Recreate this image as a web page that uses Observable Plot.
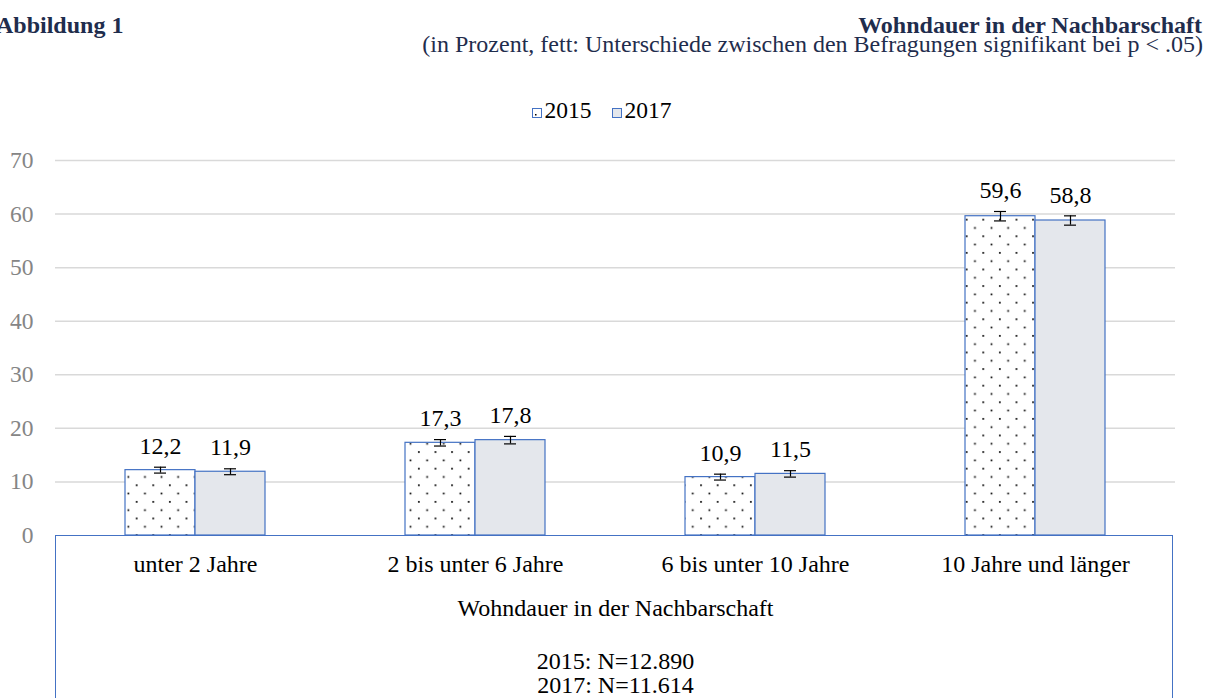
<!DOCTYPE html>
<html>
<head>
<meta charset="utf-8">
<script src="https://cdn.jsdelivr.net/npm/d3@7"></script>
<script src="https://cdn.jsdelivr.net/npm/@observablehq/plot@0.6"></script>
<style>
  html, body { margin: 0; padding: 0; background: #fff; overflow: hidden; }
  body { width: 1207px; height: 698px; position: relative; font-family: "Liberation Serif", "Times New Roman", serif; }
  #chart { position: absolute; left: 0; top: 0; }
  .t { position: absolute; white-space: nowrap; color: #1f2d4d; font-size: 24px; }
  #title-left { left: -4px; top: 16px; font-weight: bold; line-height: 18px; }
  #title-right { right: 4px; top: 16px; line-height: 19px; text-align: right; }
  #title-right b { margin-right: 1px; }
  #legend { position: absolute; top: 99px; left: 0; width: 1203px; text-align: center; font-size: 23.5px; color: #000; line-height: 1; }
  #legend span { margin: 0 10px; }
  #legend svg { vertical-align: 0px; margin-right: 3px; }
  #box { position: absolute; left: 55px; top: 535px; width: 1118px; height: 200px; border: 1.5px solid #4472c4; box-sizing: border-box; }
</style>
</head>
<body>
<div id="box"></div>
<div id="chart"></div>
<div class="t" id="title-left">Abbildung 1</div>
<div class="t" id="title-right"><b>Wohndauer in der Nachbarschaft</b><br>(in Prozent, fett: Unterschiede zwischen den Befragungen signifikant bei p &lt; .05)</div>
<div id="legend"></div>
<script>
const categories = ["unter 2 Jahre", "2 bis unter 6 Jahre", "6 bis unter 10 Jahre", "10 Jahre und länger"];
const years = ["2015", "2017"];
const values2015 = [12.2, 17.3, 10.9, 59.6];
const values2017 = [11.9, 17.8, 11.5, 58.8];
const err2015 = [0.55, 0.6, 0.55, 0.88];
const err2017 = [0.55, 0.7, 0.6, 0.87];
const yTicks = [0, 10, 20, 30, 40, 50, 60, 70];
const axisTitle = "Wohndauer in der Nachbarschaft";
const nLines = ["2015: N=12.890", "2017: N=11.614"];

const fmt = v => v.toFixed(1).replace(".", ",");
const d15 = categories.map((c, i) => ({cat: c, v: values2015[i], e: err2015[i]}));
const d17 = categories.map((c, i) => ({cat: c, v: values2017[i], e: err2017[i]}));

const blue = "#4472c4";
const serif = "Liberation Serif, Times New Roman, serif";
const FS = 24;

function series(data, fill, left, right, dx) {
  return [
    Plot.barY(data, {x: "cat", y: "v", fill, stroke: blue, strokeWidth: 1.2, insetLeft: left, insetRight: right}),
    Plot.ruleX(data, {x: "cat", y1: d => d.v - d.e, y2: d => d.v + d.e, dx, stroke: "#000", strokeWidth: 1.2}),
    Plot.tickY(data, {x: "cat", y: d => d.v - d.e, stroke: "#000", strokeWidth: 1.2, insetLeft: left + 29, insetRight: right + 29}),
    Plot.tickY(data, {x: "cat", y: d => d.v + d.e, stroke: "#000", strokeWidth: 1.2, insetLeft: left + 29, insetRight: right + 29}),
    Plot.text(data, {x: "cat", y: d => d.v + d.e, text: d => fmt(d.v), dx, dy: -21, lineAnchor: "middle", fill: "#000", fontSize: FS, fontFamily: serif})
  ];
}

const plot = Plot.plot({
  width: 1207,
  height: 698,
  marginTop: 160,
  marginBottom: 163,
  marginLeft: 55,
  marginRight: 32,
  style: {fontFamily: serif, fontSize: "23.5px", color: "#858585", background: "transparent"},
  x: {domain: categories, padding: 0, axis: null},
  y: {domain: [0, 70], ticks: yTicks, tickSize: 0, tickPadding: 22, label: null, tickFormat: d => String(d)},
  marks: [
    Plot.ruleY(yTicks.filter(t => t > 0), {stroke: "#d9d9d9", strokeWidth: 1.5}),
    ...series(d15, "url(#dots)", 70, 140, -35),
    ...series(d17, "#e4e7ec", 140, 70, 35),
    Plot.text(categories, {x: d => d, frameAnchor: "bottom", dy: 29, lineAnchor: "middle", fill: "#000", fontSize: FS, fontFamily: serif}),
    Plot.text([axisTitle], {frameAnchor: "bottom", dy: 73, lineAnchor: "middle", fill: "#000", fontSize: FS, fontFamily: serif}),
    Plot.text([nLines.join("\n")], {frameAnchor: "bottom", dy: 138, lineAnchor: "middle", lineHeight: 1.0, fill: "#000", fontSize: FS, fontFamily: serif})
  ]
});

const defs = d3.select(plot).insert("defs", ":first-child");
const pat = defs.append("pattern").attr("id", "dots").attr("patternUnits", "userSpaceOnUse")
  .attr("width", 16.6).attr("height", 16.6);
pat.append("rect").attr("width", 16.6).attr("height", 16.6).attr("fill", "#fff");
pat.append("rect").attr("x", 3).attr("y", 3).attr("width", 1.7).attr("height", 1.7).attr("fill", "#000");
pat.append("rect").attr("x", 11.3).attr("y", 11.3).attr("width", 1.7).attr("height", 1.7).attr("fill", "#000");

document.getElementById("chart").appendChild(plot);

// legend
const lg = document.getElementById("legend");
const swatch = y => y === "2015"
  ? `<svg width="10" height="10"><rect x="0.5" y="0.5" width="9" height="9" fill="#fff" stroke="${blue}"/><rect x="3" y="6" width="1.5" height="1.5" fill="#000"/></svg>`
  : `<svg width="10" height="10"><rect x="0.5" y="0.5" width="9" height="9" fill="#e4e7ec" stroke="${blue}"/></svg>`;
lg.innerHTML = years.map(y => `<span>${swatch(y)}${y}</span>`).join("");
</script>
</body>
</html>
